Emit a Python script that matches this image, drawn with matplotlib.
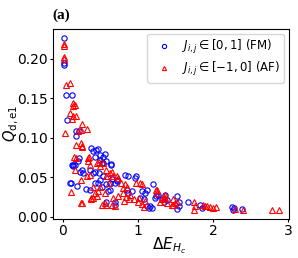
import matplotlib
matplotlib.use("Agg")
import matplotlib.pyplot as plt

# ---------- data ----------
fm_x = [0.01, 0.02, 0.02, 0.04, 0.12, 0.06, 0.17, 0.22, 0.18, 0.38, 0.44, 0.47,
        0.54, 0.22, 0.20, 0.13, 0.16, 0.23, 0.11, 0.19, 0.31, 0.36, 0.40, 0.43,
        0.36, 0.40, 0.43, 0.49, 0.54, 0.58, 0.64, 0.48, 0.54, 0.49, 0.43, 0.47,
        0.52, 0.58, 0.63, 0.69, 0.72, 0.60, 0.63, 0.58, 0.69, 0.83, 0.87, 0.85,
        0.87, 0.92, 0.98, 0.96, 1.05, 1.09, 1.12, 1.03, 1.08, 1.12, 1.14, 1.20,
        1.16, 1.18, 1.23, 1.27, 1.36, 1.34, 1.32, 1.38, 1.52, 1.54, 1.54, 1.52,
        1.67, 1.83, 1.85, 2.25, 2.28, 2.27, 2.38, 0.56, 0.64, 0.65, 0.72, 1.24,
        0.09, 0.12, 0.14, 0.25, 0.27, 0.49, 0.52, 0.69]
fm_y = [0.227, 0.195, 0.192, 0.154, 0.154, 0.122, 0.108, 0.108, 0.102, 0.087, 0.085, 0.086,
        0.076, 0.074, 0.071, 0.066, 0.065, 0.057, 0.043, 0.039, 0.035, 0.034, 0.083, 0.076,
        0.059, 0.055, 0.057, 0.072, 0.068, 0.070, 0.066, 0.055, 0.051, 0.047, 0.043, 0.043,
        0.038, 0.041, 0.043, 0.043, 0.047, 0.032, 0.034, 0.019, 0.019, 0.053, 0.051, 0.034,
        0.030, 0.032, 0.051, 0.049, 0.032, 0.030, 0.034, 0.024, 0.022, 0.013, 0.011, 0.041,
        0.013, 0.011, 0.024, 0.028, 0.028, 0.019, 0.022, 0.021, 0.026, 0.019, 0.013, 0.010,
        0.018, 0.015, 0.011, 0.012, 0.011, 0.009, 0.010, 0.080, 0.067, 0.048, 0.045, 0.026,
        0.043, 0.066, 0.064, 0.059, 0.055, 0.078, 0.068, 0.015]

af_x = [0.01, 0.01, 0.02, 0.02, 0.04, 0.09, 0.14, 0.16, 0.13, 0.10, 0.14, 0.17,
        0.12, 0.25, 0.03, 0.20, 0.24, 0.32, 0.24, 0.26, 0.18, 0.15, 0.17, 0.34,
        0.25, 0.16, 0.24, 0.11, 0.24, 0.32, 0.35, 0.34, 0.36, 0.45, 0.48, 0.58,
        0.63, 0.67, 0.72, 0.74, 0.40, 0.43, 0.47, 0.38, 0.45, 0.56, 0.52, 0.58,
        0.65, 0.69, 0.67, 0.74, 0.78, 0.83, 0.80, 0.85, 1.03, 1.05, 0.58, 0.65,
        0.61, 0.98, 1.25, 0.80, 0.84, 0.88, 0.82, 0.90, 0.95, 1.00, 1.02, 1.06,
        1.08, 1.10, 1.34, 1.32, 1.24, 1.25, 1.36, 1.29, 1.36, 1.38, 1.47, 1.49,
        1.45, 1.47, 1.52, 1.74, 1.76, 1.74, 1.87, 1.89, 1.92, 1.96, 2.00, 2.04,
        2.29, 2.40, 2.78, 2.87, 0.25, 0.38, 0.40, 0.56, 0.36, 0.49, 0.54, 0.49]
af_y = [0.216, 0.219, 0.203, 0.200, 0.167, 0.169, 0.144, 0.142, 0.140, 0.132, 0.127, 0.127,
        0.124, 0.118, 0.106, 0.108, 0.110, 0.111, 0.093, 0.088, 0.091, 0.076, 0.075, 0.074,
        0.089, 0.059, 0.047, 0.031, 0.017, 0.051, 0.076, 0.070, 0.066, 0.068, 0.069, 0.051,
        0.055, 0.051, 0.052, 0.049, 0.038, 0.030, 0.032, 0.024, 0.026, 0.030, 0.015, 0.015,
        0.015, 0.014, 0.024, 0.026, 0.043, 0.041, 0.036, 0.038, 0.043, 0.041, 0.059, 0.057,
        0.043, 0.043, 0.034, 0.030, 0.025, 0.022, 0.020, 0.028, 0.022, 0.018, 0.024, 0.016,
        0.012, 0.020, 0.024, 0.022, 0.034, 0.030, 0.028, 0.019, 0.024, 0.017, 0.015, 0.017,
        0.015, 0.022, 0.019, 0.019, 0.013, 0.009, 0.015, 0.013, 0.014, 0.012, 0.011, 0.012,
        0.010, 0.009, 0.008, 0.008, 0.017, 0.022, 0.024, 0.017, 0.053, 0.064, 0.068, 0.038]

fm_label = r"$J_{i,j} \in [0, 1]$ (FM)"
af_label = r"$J_{i,j} \in [-1, 0]$ (AF)"

# ---------- figure ----------
fig = plt.figure(figsize=(2.98, 2.58), dpi=100)
ax = fig.add_axes([0.178, 0.151, 0.792, 0.737])

ax.plot(fm_x, fm_y, "o", ls="none", ms=3.8, mfc="none", mec="blue", mew=0.8,
        label=fm_label)
ax.plot(af_x, af_y, "^", ls="none", ms=3.8, mfc="none", mec="red", mew=0.8,
        label=af_label)

ax.set_xlim(-0.13, 3.01)
ax.set_ylim(-0.003, 0.238)
ax.set_xticks([0, 1, 2, 3])
ax.set_yticks([0.0, 0.05, 0.10, 0.15, 0.20])
ax.set_yticklabels(["0.00", "0.05", "0.10", "0.15", "0.20"])
ax.tick_params(labelsize=10, length=2.5, pad=1.0)

ax.set_xlabel(r"$\Delta E_{H_c}$", fontsize=11)
ax.set_ylabel(r"$Q_{\rm d,e1}$", fontsize=10.5)
ax.xaxis.set_label_coords(0.49, -0.085)
ax.yaxis.set_label_coords(-0.135, 0.5)

ax.legend(loc="upper right", fontsize=8.5, markerscale=0.8, handletextpad=0.5,
          labelspacing=0.3, borderaxespad=0.4)

fig.text(0.175, 0.94, "(a)", fontsize=11, fontweight="bold",
         family="Liberation Serif", ha="left", va="center")

fig.savefig("out.png", dpi=100)
